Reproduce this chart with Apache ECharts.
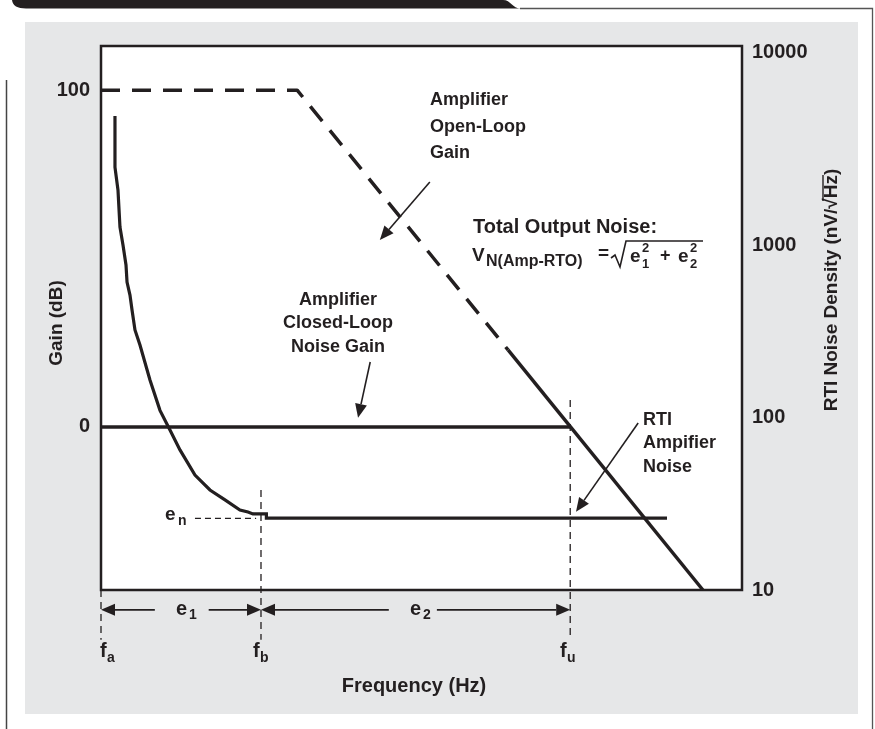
<!DOCTYPE html>
<html><head><meta charset="utf-8">
<script src="https://cdn.jsdelivr.net/npm/echarts@6/dist/echarts.min.js"></script>
<style>html,body{margin:0;padding:0;background:#fff}#c{width:875px;height:729px}</style>
</head><body><div id="c"></div>
<script>
// ---- data (relative log-frequency position 0..100) ----
const gainTicks = [0, 100];
const noiseTicks = [10, 100, 1000, 10000];
const markFreqs = [0, 24.96, 73.2];      // fa, fb, fu
const markNames = ['a', 'b', 'u'];
const markTopGain = [-48.4, -18.7, 8];   // top of each dashed marker (dB)
const markBottomGain = -63.2;

const openLoopDashFreq = [0, 30.6, 63.5];
const openLoopDashGain = [100, 100, 22.87];
const openLoopSolidFreq = [63.5, 93.9];
const openLoopSolidGain = [22.87, -48.4];

const closedLoopFreq = [0, 73.2];
const closedLoopGain = [0, 0];

const noiseFreq = [2.18, 2.18, 2.65, 2.96, 3.43, 3.9, 4.06, 4.52, 4.84, 5.3, 6.08, 7.64, 9.2, 10.76, 12.32, 14.66, 17.0, 19.34, 21.68, 22.93, 23.7, 25.8, 25.8, 88.3];
const noiseDensity = [5600, 2830, 2080, 1270, 1000, 766, 610, 513, 420, 322, 263, 165, 110, 84.7, 64.9, 46.4, 38.0, 33.3, 29.1, 28.3, 27.6, 27.6, 26.1, 26.1];

const enFreq = [14.66, 24.2];
const enDensity = [26.0, 26.0];

const arrowFrom = [[8.4, -54.3], [16.8, -54.3], [44.9, -54.3], [52.4, -54.3], [51.3, 72.7], [42.0, 19.3], [83.8, 1.2]];
const arrowTo   = [[0, -54.3], [24.96, -54.3], [24.96, -54.3], [73.2, -54.3], [43.5, 55.5], [40.1, 2.7], [74.1, -25.2]];

const INK = '#231f20';
const FONT = '"Liberation Sans", Arial, sans-serif';

const zip = (a, b) => a.map((v, i) => [v, b[i]]);

function T(x, y, text, size, align, extra) {
  return Object.assign({
    type: 'text', x: x, y: y, z: 100,
    style: { text: text, fill: INK, font: 'bold ' + size + 'px ' + FONT, textAlign: align || 'left', textVerticalAlign: 'middle' }
  }, extra || {});
}

// black tab at top (decoration)
function tabPoints() {
  const pts = [];
  for (let i = 0; i <= 8; i++) {
    const t = i / 8, u = 1 - t;
    pts.push([u*u*u*503 + 3*u*u*t*511 + 3*u*t*t*512 + t*t*t*521, 3*u*t*t*8.5 + t*t*t*8.5]);
  }
  for (let i = 0; i <= 8; i++) {
    const t = i / 8, u = 1 - t;
    pts.push([u*u*26 + 2*u*t*13 + t*t*12, u*u*8.5 + 2*u*t*8.5]);
  }
  return pts;
}

const chart = echarts.init(document.getElementById('c'), null, { renderer: 'canvas' });

const markSeries = markFreqs.map((f, i) => ({
  type: 'line', yAxisIndex: 0, clip: false, symbol: 'none', silent: true,
  data: [[f, markTopGain[i]], [f, markBottomGain]],
  lineStyle: { color: INK, width: 1.3, type: [7, 5] }, z: 3
}));

const texts = [
  T(430, 100, 'Amplifier', 18), T(430, 127, 'Open-Loop', 18), T(430, 153, 'Gain', 18),
  T(473, 227, 'Total Output Noise:', 20),
  T(338, 300, 'Amplifier', 18, 'center'), T(338, 323, 'Closed-Loop', 18, 'center'), T(338, 347, 'Noise Gain', 18, 'center'),
  T(643, 420, 'RTI', 18), T(643, 443, 'Ampifier', 18), T(643, 467, 'Noise', 18),
  T(165, 515, 'e', 19), T(178, 521, 'n', 14),
  T(176, 609, 'e', 20), T(189, 615, '1', 14),
  T(410, 609, 'e', 20), T(423, 615, '2', 14),
  T(100, 651, 'f', 20), T(107, 658, 'a', 14),
  T(253, 651, 'f', 20), T(260, 658, 'b', 14),
  T(560, 651, 'f', 20), T(567, 658, 'u', 14),
  T(414, 686, 'Frequency (Hz)', 20, 'center'),
  T(57, 323, 'Gain (dB)', 19, 'center', { rotation: Math.PI / 2 }),
  T(832, 290, 'RTI Noise Density (nV/\u221AHz)', 19, 'center', { rotation: Math.PI / 2 }),
  { type: 'line', z: 100, shape: { x1: 823, y1: 201, x2: 823, y2: 175 }, style: { stroke: INK, lineWidth: 1.4 } },
  T(472, 256, 'V', 19), T(486, 262, 'N(Amp-RTO)', 16),
  T(598, 254, '=', 19),
  T(630, 257, 'e', 19), T(642, 264, '1', 13), T(642, 248, '2', 13),
  T(660, 256, '+', 18),
  T(678, 257, 'e', 19), T(690, 264, '2', 13), T(690, 248, '2', 13),
  { type: 'polyline', z: 100, shape: { points: [[611, 258], [615, 255], [620, 267], [626, 241], [703, 241]] }, style: { stroke: INK, lineWidth: 1.6, fill: null } }
];

const option = {
  animation: false,
  backgroundColor: '#fff',
  grid: { left: 101, right: 133, top: 46, bottom: 139, show: true, backgroundColor: '#fff', borderColor: INK, borderWidth: 2.5 },
  xAxis: {
    type: 'value', min: 0, max: 100,
    axisLine: { show: false }, axisTick: { show: false }, axisLabel: { show: false }, splitLine: { show: false }
  },
  yAxis: [
    {
      type: 'value', min: -48.4, max: 113.1, position: 'left',
      axisLine: { show: false }, axisTick: { show: false }, splitLine: { show: false },
      axisLabel: { color: INK, fontWeight: 'bold', fontSize: 20, fontFamily: FONT, margin: 11, customValues: gainTicks,
        formatter: v => gainTicks.some(t => Math.abs(t - v) < 1e-6) ? String(v) : '' }
    },
    {
      type: 'log', logBase: 10, min: 10, max: 14250, position: 'right',
      axisLine: { show: false }, axisTick: { show: false }, splitLine: { show: false },
      axisLabel: { color: INK, fontWeight: 'bold', fontSize: 20, fontFamily: FONT, margin: 10,
        rich: { top: { color: INK, fontWeight: 'bold', fontSize: 20, fontFamily: FONT, padding: [0, 0, 40, 0] } },
        formatter: v => {
          const m = noiseTicks.find(t => Math.abs(Math.log10(v) - Math.log10(t)) < 1e-4);
          if (!m) return '';
          return m === noiseTicks[noiseTicks.length - 1] ? '{top|' + m + '}' : String(m);
        } }
    }
  ],
  graphic: [
    { type: 'rect', z: -10, shape: { x: 25, y: 22, width: 833, height: 692 }, style: { fill: '#e6e7e8' } },
    { type: 'polygon', z: -5, shape: { points: [[12, 0]].concat(tabPoints()) }, style: { fill: INK } },
    { type: 'polyline', z: -5, shape: { points: [[520, 8.5], [872.5, 8.5], [872.5, 729]] }, style: { stroke: '#555', lineWidth: 1.3, fill: null } },
    { type: 'line', z: -5, shape: { x1: 6.5, y1: 80, x2: 6.5, y2: 729 }, style: { stroke: '#444', lineWidth: 1.5 } }
  ].concat(texts),
  series: [
    { type: 'line', yAxisIndex: 0, symbol: 'none', silent: true, data: zip(openLoopDashFreq, openLoopDashGain),
      lineStyle: { color: INK, width: 3.5, type: [19, 12], cap: 'butt' }, z: 5 },
    { type: 'line', yAxisIndex: 0, symbol: 'none', silent: true, data: zip(openLoopSolidFreq, openLoopSolidGain),
      lineStyle: { color: INK, width: 3.5 }, z: 5 },
    { type: 'line', yAxisIndex: 0, symbol: 'none', silent: true, data: zip(closedLoopFreq, closedLoopGain),
      lineStyle: { color: INK, width: 3.5 }, z: 5 },
    { type: 'line', yAxisIndex: 1, symbol: 'none', silent: true, data: zip(noiseFreq, noiseDensity),
      lineStyle: { color: INK, width: 3.2, join: 'miter' }, z: 5 },
    { type: 'line', yAxisIndex: 1, symbol: 'none', silent: true, data: zip(enFreq, enDensity), clip: false,
      lineStyle: { color: INK, width: 1.1, type: [6, 4] }, z: 4 }
  ].concat(markSeries).concat([{
    type: 'custom', yAxisIndex: 0, clip: false, silent: true, z: 6,
    data: arrowFrom.map((p, i) => [p[0], p[1], arrowTo[i][0], arrowTo[i][1]]),
    encode: { x: [0, 2], y: [1, 3] },
    renderItem: function (params, api) {
      const p1 = api.coord([api.value(0), api.value(1)]);
      const p2 = api.coord([api.value(2), api.value(3)]);
      const dx = p2[0] - p1[0], dy = p2[1] - p1[1], L = Math.hypot(dx, dy), ux = dx / L, uy = dy / L;
      const hl = 14, hw = 6;
      const bx = p2[0] - ux * hl, by = p2[1] - uy * hl;
      return { type: 'group', children: [
        { type: 'line', shape: { x1: p1[0], y1: p1[1], x2: bx, y2: by }, style: { stroke: INK, lineWidth: 1.6 } },
        { type: 'polygon', shape: { points: [[p2[0], p2[1]], [bx - uy * hw, by + ux * hw], [bx + uy * hw, by - ux * hw]] }, style: { fill: INK } }
      ] };
    }
  }])
};
chart.setOption(option);
</script>
</body></html>
